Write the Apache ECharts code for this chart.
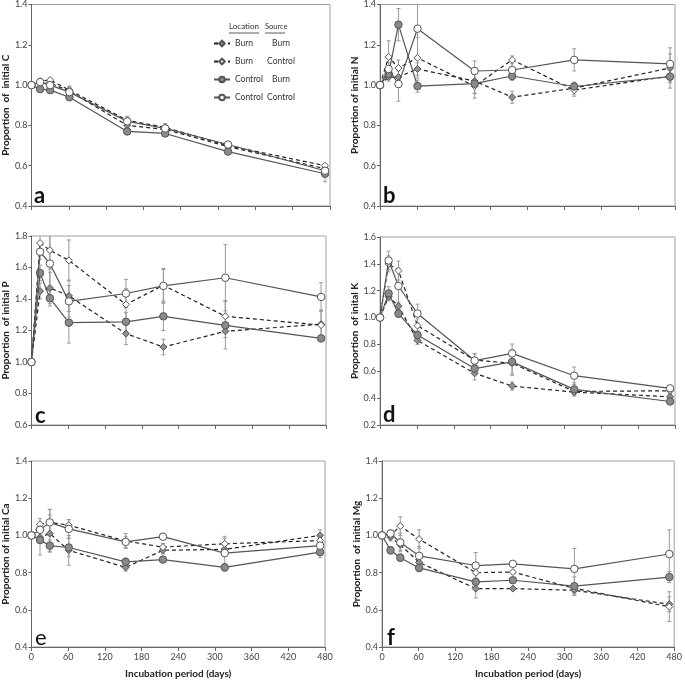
<!DOCTYPE html>
<html>
<head>
<meta charset="utf-8">
<script src="https://cdn.jsdelivr.net/npm/echarts@6/dist/echarts.min.js"></script>
<style>
  html, body { margin: 0; padding: 0; background: #fff; }
  #main { width: 685px; height: 680px; }
</style>
</head>
<body>
<div id="main"></div>
<script>
// sampling days
var days = [0, 14, 30, 61, 154, 215, 316, 472];

// C
var C_BB = [1.0, 1.01, 1.01, 0.97, 0.80, 0.78, 0.695, 0.585];
var C_BC = [1.0, 1.02, 1.025, 0.975, 0.825, 0.79, 0.70, 0.60];
var C_CB = [1.0, 0.98, 0.975, 0.94, 0.77, 0.76, 0.67, 0.56];
var C_CC = [1.0, 1.015, 1.0, 0.965, 0.82, 0.785, 0.705, 0.575];
var C_BBe = [0, 0.01, 0.01, 0.02, 0.02, 0.02, 0.01, 0.02];
var C_BCe = [0, 0.01, 0.01, 0.02, 0.02, 0.02, 0.01, 0.01];
var C_CBe = [0, 0.01, 0.01, 0.01, 0.01, 0.01, 0.01, 0.04];
var C_CCe = [0, 0.01, 0.01, 0.02, 0.02, 0.01, 0.01, 0.02];

// N
var N_BB = [1.0, 1.04, 1.04, 1.08, 1.02, 0.94, 0.985, 1.085];
var N_BC = [1.0, 1.14, 1.085, 1.135, 0.995, 1.125, 0.975, 1.045];
var N_CB = [1.0, 1.056, 1.30, 0.995, 1.007, 1.045, 0.993, 1.042];
var N_CC = [1.0, 1.08, 1.005, 1.28, 1.07, 1.075, 1.125, 1.105];
var N_BBe = [0, 0.02, 0.03, 0.03, 0.06, 0.03, 0.03, 0.07];
var N_BCe = [0, 0.08, 0.04, 0.10, 0.06, 0.02, 0.03, 0.06];
var N_CBe = [0, 0.02, 0.08, 0.03, 0.05, 0.02, 0.02, 0.03];
var N_CCe = [0, 0.03, 0.085, 0.15, 0.05, 0.05, 0.055, 0.08];

// P
var P_BB = [1.0, 1.45, 1.47, 1.42, 1.18, 1.095, 1.195, 1.24];
var P_BC = [1.0, 1.755, 1.71, 1.645, 1.365, 1.487, 1.29, 1.234];
var P_CB = [1.0, 1.565, 1.405, 1.25, 1.255, 1.29, 1.233, 1.15];
var P_CC = [1.0, 1.70, 1.625, 1.385, 1.435, 1.483, 1.535, 1.413];
var P_BBe = [0, 0.05, 0.10, 0.10, 0.07, 0.05, 0.04, 0.09];
var P_BCe = [0, 0.05, 0.12, 0.13, 0.10, 0.10, 0.10, 0.09];
var P_CBe = [0, 0.05, 0.05, 0.13, 0.06, 0.09, 0.15, 0.02];
var P_CCe = [0, 0.05, 0.20, 0.10, 0.09, 0.11, 0.21, 0.09];

// K
var K_BB = [1.0, 1.155, 1.085, 0.83, 0.585, 0.49, 0.445, 0.41];
var K_BC = [1.0, 1.40, 1.35, 0.94, 0.683, 0.66, 0.45, 0.455];
var K_CB = [1.0, 1.18, 1.03, 0.87, 0.62, 0.67, 0.465, 0.375];
var K_CC = [1.0, 1.425, 1.235, 1.03, 0.68, 0.733, 0.567, 0.473];
var K_BBe = [0, 0.03, 0.03, 0.03, 0.05, 0.03, 0.02, 0.02];
var K_BCe = [0, 0.06, 0.07, 0.05, 0.05, 0.09, 0.02, 0.02];
var K_CBe = [0, 0.05, 0.03, 0.03, 0.03, 0.09, 0.05, 0.02];
var K_CCe = [0, 0.07, 0.13, 0.07, 0.05, 0.07, 0.065, 0.02];

// Ca
var Ca_BB = [1.0, 0.99, 1.01, 0.92, 0.828, 0.92, 0.925, 1.0];
var Ca_BC = [1.0, 1.06, 1.07, 1.055, 0.97, 0.937, 0.955, 0.972];
var Ca_CB = [1.0, 0.975, 0.945, 0.935, 0.858, 0.87, 0.828, 0.91];
var Ca_CC = [1.0, 1.03, 1.07, 1.035, 0.965, 0.993, 0.905, 0.945];
var Ca_BBe = [0, 0.03, 0.10, 0.08, 0.02, 0.02, 0.03, 0.03];
var Ca_BCe = [0, 0.03, 0.07, 0.03, 0.04, 0.02, 0.04, 0.03];
var Ca_CBe = [0, 0.08, 0.03, 0.05, 0.02, 0.01, 0.02, 0.03];
var Ca_CCe = [0, 0.03, 0.07, 0.05, 0.03, 0.01, 0.08, 0.03];

// Mg
var Mg_BB = [1.0, 0.99, 0.95, 0.855, 0.714, 0.714, 0.705, 0.63];
var Mg_BC = [1.0, 1.0, 1.05, 0.98, 0.80, 0.803, 0.715, 0.617];
var Mg_CB = [1.0, 0.92, 0.88, 0.825, 0.75, 0.759, 0.727, 0.776];
var Mg_CC = [1.0, 1.01, 0.962, 0.89, 0.838, 0.847, 0.82, 0.90];
var Mg_BBe = [0, 0.02, 0.03, 0.03, 0.05, 0.01, 0.02, 0.04];
var Mg_BCe = [0, 0.02, 0.05, 0.05, 0.03, 0.01, 0.02, 0.08];
var Mg_CBe = [0, 0.02, 0.02, 0.02, 0.04, 0.01, 0.05, 0.03];
var Mg_CCe = [0, 0.02, 0.05, 0.05, 0.07, 0.01, 0.11, 0.13];

var panelLetters = ['a', 'b', 'c', 'd', 'e', 'f'];
var yNames = ['Proportion  of  initial C', 'Proportion of initial N', 'Proportion  of initial P',
  'Proportion  of inital K', 'Proportion of initial Ca', 'Proportion  of initial Mg'];
var yMin = [0.4, 0.4, 0.6, 0.2, 0.4, 0.4];
var yMax = [1.4, 1.4, 1.8, 1.6, 1.4, 1.4];
var xName = 'Incubation period (days)';

var legendLoc = ['Burn', 'Burn', 'Control', 'Control'];
var legendSrc = ['Burn', 'Control', 'Burn', 'Control'];

var panels = [
  [C_BB, C_BC, C_CB, C_CC, C_BBe, C_BCe, C_CBe, C_CCe],
  [N_BB, N_BC, N_CB, N_CC, N_BBe, N_BCe, N_CBe, N_CCe],
  [P_BB, P_BC, P_CB, P_CC, P_BBe, P_BCe, P_CBe, P_CCe],
  [K_BB, K_BC, K_CB, K_CC, K_BBe, K_BCe, K_CBe, K_CCe],
  [Ca_BB, Ca_BC, Ca_CB, Ca_CC, Ca_BBe, Ca_BCe, Ca_CBe, Ca_CCe],
  [Mg_BB, Mg_BC, Mg_CB, Mg_CC, Mg_BBe, Mg_BCe, Mg_CBe, Mg_CCe]
];

var FONT = 'Lato';
var grids = [
  { left: 30, top: 4, width: 300, height: 202 },
  { left: 380, top: 4, width: 295, height: 202 },
  { left: 30, top: 236, width: 296, height: 189 },
  { left: 380, top: 237, width: 295, height: 188 },
  { left: 31, top: 461, width: 294, height: 189 },
  { left: 382, top: 461, width: 293, height: 189 }
];
var letterPos = [[34, 185], [383, 185], [35, 405], [383, 404], [35, 627], [387, 627]];

// series styles: Burn/Burn, Burn/Control, Control/Burn, Control/Control
var seriesNames = ['BB', 'BC', 'CB', 'CC'];
var styles = [
  { symbol: 'diamond', size: 7, fill: '#8f8f8f', dash: [4, 3] },
  { symbol: 'diamond', size: 7, fill: '#ffffff', dash: [4, 3] },
  { symbol: 'circle', size: 7.5, fill: '#8a8a8a', dash: 'solid' },
  { symbol: 'circle', size: 7.5, fill: '#ffffff', dash: 'solid' }
];

function errItem(params, api) {
  var x = api.value(0), y = api.value(1), e = api.value(2);
  if (!e) return;
  var top = api.coord([x, y + e]);
  var bot = api.coord([x, y - e]);
  var st = { stroke: '#9a9a9a', lineWidth: 1 };
  return {
    type: 'group',
    children: [
      { type: 'line', shape: { x1: top[0], y1: top[1], x2: bot[0], y2: bot[1] }, style: st },
      { type: 'line', shape: { x1: top[0] - 2, y1: top[1], x2: top[0] + 2, y2: top[1] }, style: st },
      { type: 'line', shape: { x1: bot[0] - 2, y1: bot[1], x2: bot[0] + 2, y2: bot[1] }, style: st }
    ]
  };
}

var xAxes = [], yAxes = [], series = [], graphics = [];

grids.forEach(function (g, i) {
  g.show = true;
  g.borderColor = '#a0a0a0';
  g.borderWidth = 1;
  g.containLabel = false;
  var bottomRow = i >= 4;
  xAxes.push({
    type: 'value', gridIndex: i, min: 0, max: 480, interval: 60,
    name: bottomRow ? xName : '', nameLocation: 'middle', nameGap: 22,
    nameTextStyle: { fontFamily: FONT, fontSize: 10, fontWeight: 'bold', color: '#222' },
    axisLine: { show: true, lineStyle: { color: '#666', width: 1 } },
    axisTick: { show: true, inside: false, length: 4, lineStyle: { color: '#666' } },
    axisLabel: { show: bottomRow, fontFamily: FONT, fontSize: 9, color: '#444', margin: 6 },
    splitLine: { show: false }
  });
  yAxes.push({
    type: 'value', gridIndex: i, min: yMin[i], max: yMax[i], interval: 0.2,
    name: yNames[i], nameLocation: 'middle', nameGap: 20, nameRotate: 90,
    nameTextStyle: { fontFamily: FONT, fontSize: 10, fontWeight: 'bold', color: '#222' },
    axisLine: { show: true, lineStyle: { color: '#666', width: 1 } },
    axisTick: { show: true, inside: false, length: 3, lineStyle: { color: '#666' } },
    axisLabel: { fontFamily: FONT, fontSize: 9, color: '#444', margin: 4,
      formatter: function (v) { return v.toFixed(1); } },
    splitLine: { show: false }
  });

  var d = panels[i];
  for (var k = 0; k < 4; k++) {
    var vals = d[k], errs = d[k + 4], s = styles[k];
    series.push({
      type: 'custom', xAxisIndex: i, yAxisIndex: i, clip: true, z: 1, silent: true,
      renderItem: errItem,
      data: days.map(function (t, j) { return [t, vals[j], errs[j]]; })
    });
    series.push({
      name: seriesNames[k], type: 'line', xAxisIndex: i, yAxisIndex: i, z: 2 + k,
      symbol: s.symbol, symbolSize: s.size, showAllSymbol: true,
      lineStyle: { color: k < 2 ? '#222' : '#555', width: 1.2, type: s.dash },
      itemStyle: { color: s.fill, borderColor: '#555', borderWidth: 1 },
      data: days.map(function (t, j) { return [t, vals[j]]; })
    });
  }

  graphics.push({
    type: 'text', left: letterPos[i][0], top: letterPos[i][1],
    style: { text: panelLetters[i], fontFamily: FONT, fontSize: 22,
      fontWeight: i === 4 ? 'normal' : 'bold', fill: '#111' }
  });
});

// legend header: Location  Source (underlined)
graphics.push(
  { type: 'text', left: 229, top: 22, style: { text: 'Location', fontFamily: FONT, fontSize: 8, fill: '#333' } },
  { type: 'line', shape: { x1: 229, y1: 33, x2: 259, y2: 33 }, style: { stroke: '#333', lineWidth: 0.8 } },
  { type: 'text', left: 265, top: 23, style: { text: 'Source', fontFamily: FONT, fontSize: 7.5, fill: '#333' } },
  { type: 'line', shape: { x1: 265, y1: 33, x2: 285, y2: 33 }, style: { stroke: '#333', lineWidth: 0.8 } }
);

var chart = echarts.init(document.getElementById('main'));
chart.setOption({
  animation: false,
  backgroundColor: '#fff',
  grid: grids,
  xAxis: xAxes,
  yAxis: yAxes,
  legend: {
    data: seriesNames, orient: 'vertical', left: 208, top: 34,
    itemWidth: 16, itemHeight: 7, itemGap: 9, selectedMode: false,
    formatter: function (name) {
      var idx = seriesNames.indexOf(name);
      return '{l|' + legendLoc[idx] + '}{s|' + legendSrc[idx] + '}';
    },
    textStyle: {
      fontFamily: FONT, fontSize: 8.5, color: '#333',
      rich: {
        l: { width: 33, fontFamily: FONT, fontSize: 8.5, color: '#333' },
        s: { width: 26, align: 'center', fontFamily: FONT, fontSize: 8.5, color: '#333' }
      }
    }
  },
  graphic: graphics,
  series: series
});
</script>
</body>
</html>
